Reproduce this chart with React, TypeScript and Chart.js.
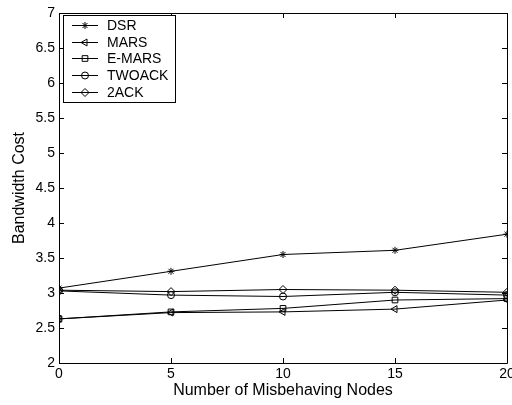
import React, { useEffect, useRef } from "react";
import { Chart, registerables } from "chart.js";
import { drawPoint } from "chart.js/helpers";

Chart.register(...registerables);

const xValues = [0, 5, 10, 15, 20];
const dsrValues = [3.07, 3.31, 3.55, 3.61, 3.84];
const marsValues = [2.63, 2.72, 2.73, 2.77, 2.9];
const emarsValues = [2.63, 2.73, 2.78, 2.9, 2.92];
const twoackValues = [3.03, 2.97, 2.95, 3.01, 2.97];
const ack2Values = [3.04, 3.02, 3.05, 3.04, 3.01];
const seriesLabels = ["DSR", "MARS", "E-MARS", "TWOACK", "2ACK"];
const xTitle = "Number of Misbehaving Nodes";
const yTitle = "Bandwidth Cost";

const FONT = "'Liberation Sans', Arial, Helvetica, sans-serif";

const markerStyles = [
  { pointStyle: "star", rotation: 0, radius: 3.5, borderWidth: 1 },
  { pointStyle: "triangle", rotation: -90, radius: 4, borderWidth: 1 },
  { pointStyle: "rect", rotation: 0, radius: 4, borderWidth: 1 },
  { pointStyle: "circle", rotation: 0, radius: 3.5, borderWidth: 1 },
  { pointStyle: "rectRot", rotation: 0, radius: 4, borderWidth: 1 },
];

const boxTicksPlugin = {
  id: "boxTicks",
  afterDraw(chart: any) {
    const { ctx, chartArea, scales } = chart;
    const { left, right, top, bottom } = chartArea;
    ctx.save();
    ctx.strokeStyle = "#000";
    ctx.lineWidth = 1;
    ctx.beginPath();
    ctx.rect(Math.round(left) + 0.5, Math.round(top) + 0.5, Math.round(right - left), Math.round(bottom - top));
    ctx.stroke();
    const len = 5;
    ctx.beginPath();
    scales.x.ticks.forEach((t: any) => {
      const px = Math.round(scales.x.getPixelForValue(t.value)) + 0.5;
      ctx.moveTo(px, bottom);
      ctx.lineTo(px, bottom - len);
      ctx.moveTo(px, top);
      ctx.lineTo(px, top + len);
    });
    scales.y.ticks.forEach((t: any) => {
      const py = Math.round(scales.y.getPixelForValue(t.value)) + 0.5;
      ctx.moveTo(left, py);
      ctx.lineTo(left + len, py);
      ctx.moveTo(right, py);
      ctx.lineTo(right - len, py);
    });
    ctx.stroke();
    ctx.restore();
  },
};

const legendPlugin = {
  id: "matlabLegend",
  afterDraw(chart: any) {
    const { ctx, chartArea } = chart;
    const bx = chartArea.left + 4;
    const by = chartArea.top + 2;
    const rowH = 16.7;
    const bw = 112;
    const bh = 87;
    ctx.save();
    ctx.fillStyle = "#fff";
    ctx.fillRect(bx, by, bw, bh);
    ctx.strokeStyle = "#000";
    ctx.lineWidth = 1;
    ctx.strokeRect(Math.round(bx) + 0.5, Math.round(by) + 0.5, bw, bh);
    ctx.font = "14px " + FONT;
    ctx.textBaseline = "middle";
    ctx.textAlign = "left";
    chart.data.datasets.forEach((ds: any, i: number) => {
      const cy = by + 10 + i * rowH;
      ctx.strokeStyle = "#000";
      ctx.lineWidth = 1;
      ctx.beginPath();
      ctx.moveTo(bx + 9, Math.round(cy) + 0.5);
      ctx.lineTo(bx + 35, Math.round(cy) + 0.5);
      ctx.stroke();
      const m = markerStyles[i];
      ctx.fillStyle = "rgba(0,0,0,0)";
      ctx.strokeStyle = "#000";
      ctx.lineWidth = m.borderWidth;
      drawPoint(ctx, { pointStyle: m.pointStyle as any, rotation: m.rotation, radius: m.radius, borderWidth: m.borderWidth }, bx + 22, Math.round(cy) + 0.5);
      ctx.fillStyle = "#000";
      ctx.fillText(ds.label, bx + 44, cy + 1);
    });
    ctx.restore();
  },
};

export default function App() {
  const canvasRef = useRef<HTMLCanvasElement | null>(null);

  useEffect(() => {
    const canvas = canvasRef.current;
    if (!canvas) return;
    const seriesValues = [dsrValues, marsValues, emarsValues, twoackValues, ack2Values];
    const datasets = seriesValues.map((vals, i) => ({
      label: seriesLabels[i],
      data: xValues.map((x, j) => ({ x, y: vals[j] })),
      borderColor: "#000",
      backgroundColor: "rgba(0,0,0,0)",
      borderWidth: 1,
      pointStyle: markerStyles[i].pointStyle,
      pointRotation: markerStyles[i].rotation,
      pointRadius: markerStyles[i].radius,
      pointBorderWidth: markerStyles[i].borderWidth,
      pointBorderColor: "#000",
      pointBackgroundColor: "rgba(0,0,0,0)",
      tension: 0,
      fill: false,
    }));

    const chart = new Chart(canvas, {
      type: "line",
      data: { datasets },
      options: {
        animation: false,
        responsive: false,
        maintainAspectRatio: false,
        devicePixelRatio: 1,
        layout: { padding: { top: 13, right: 5, left: 0, bottom: 0 } },
        plugins: {
          legend: { display: false },
          tooltip: { enabled: false },
        },
        scales: {
          x: {
            type: "linear",
            min: 0,
            max: 20,
            grid: { display: false, drawTicks: false },
            border: { display: false },
            ticks: {
              stepSize: 5,
              color: "#000",
              font: { family: FONT, size: 14 },
              padding: 3,
              maxRotation: 0,
            },
            title: {
              display: true,
              text: xTitle,
              color: "#000",
              font: { family: FONT, size: 16 },
              padding: { top: 0, bottom: 5 },
            },
            afterFit(scale: any) {
              scale.height = 42;
              scale.paddingLeft = 0;
              scale.paddingRight = 0;
            },
          },
          y: {
            type: "linear",
            min: 2,
            max: 7,
            grid: { display: false, drawTicks: false },
            border: { display: false },
            ticks: {
              stepSize: 0.5,
              color: "#000",
              font: { family: FONT, size: 14 },
              padding: 4,
              callback: (v: any) => String(Number(v)),
            },
            title: {
              display: true,
              text: yTitle,
              color: "#000",
              font: { family: FONT, size: 16 },
              padding: { top: 10, bottom: 0 },
            },
            afterFit(scale: any) {
              scale.width = 59;
              scale.paddingTop = 0;
              scale.paddingBottom = 0;
            },
          },
        },
      },
      plugins: [boxTicksPlugin, legendPlugin],
    } as any);

    return () => chart.destroy();
  }, []);

  return (
    <div style={{ position: "absolute", left: 0, top: 0, width: 512, height: 405, background: "#fff" }}>
      <canvas ref={canvasRef} width={512} height={405} style={{ display: "block" }} />
    </div>
  );
}
